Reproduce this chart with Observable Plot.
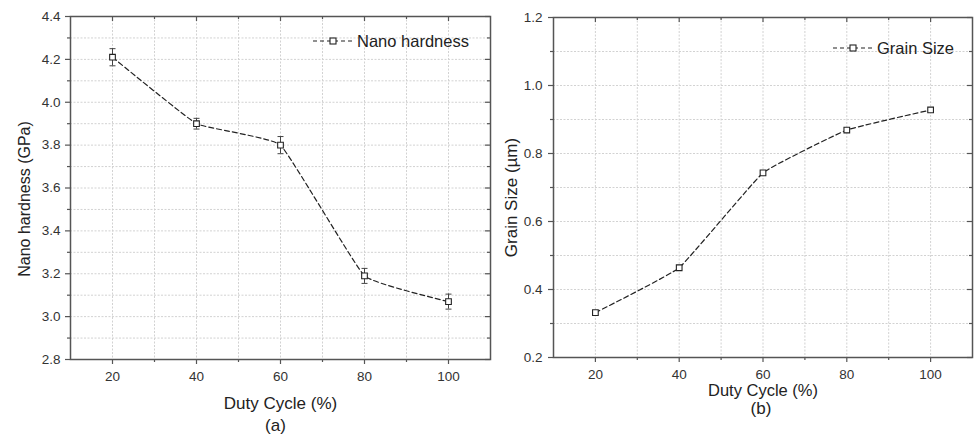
<!DOCTYPE html>
<html><head><meta charset="utf-8">
<script src="https://cdn.jsdelivr.net/npm/d3@7"></script>
<script src="https://cdn.jsdelivr.net/npm/@observablehq/plot@0.6"></script>
<style>
body{margin:0;background:#fff;font-family:"Liberation Sans",Arial,sans-serif;}
#wrap{position:relative;width:978px;height:434px;overflow:hidden;background:#fff;}
#wrap svg.plot{position:absolute;top:0;}
.legend{position:absolute;display:flex;align-items:center;height:20px;font-size:16.5px;color:#222;white-space:nowrap;}
.legend svg{margin-right:4px;}
</style></head><body><div id="wrap"></div>
<script>
// ---- data ----
const dutyCycle = [20, 40, 60, 80, 100];
const hardness = [4.21, 3.90, 3.80, 3.19, 3.07];
const hardnessErr = [0.04, 0.025, 0.04, 0.035, 0.035];
const grainSize = [0.332, 0.464, 0.743, 0.869, 0.928];
const xMajorTicks = [20, 40, 60, 80, 100];
const xMinorTicks = [30, 50, 70, 90];
const xGridTicks = [20, 30, 40, 50, 60, 70, 80, 90, 100];
const hardMajorTicks = [2.8, 3.0, 3.2, 3.4, 3.6, 3.8, 4.0, 4.2, 4.4];
const hardMinorTicks = [2.9, 3.1, 3.3, 3.5, 3.7, 3.9, 4.1, 4.3];
const grainMajorTicks = [0.2, 0.4, 0.6, 0.8, 1.0, 1.2];
const grainMinorTicks = [0.3, 0.5, 0.7, 0.9, 1.1];
const labels = {
  x: "Duty Cycle (%)",
  yA: "Nano hardness (GPa)",
  yB: "Grain Size (\u00b5m)",
  legA: "Nano hardness",
  legB: "Grain Size",
  a: "(a)",
  b: "(b)"
};

const hardData = dutyCycle.map((x, i) => ({x, y: hardness[i], err: hardnessErr[i]}));
const grainData = dutyCycle.map((x, i) => ({x, y: grainSize[i]}));

const ink = "#222";
const axisColor = "#555";
const gridStyle = {stroke: "#d2d2d2", strokeOpacity: 1, strokeDasharray: "2,1.5", strokeWidth: 1};
const capSymbol = {draw(ctx) { ctx.moveTo(-3, 0); ctx.lineTo(3, 0); }};

function tickMarks(xs, ys, fw, fh, len) {
  const s = {stroke: axisColor, strokeWidth: 1.2};
  return [
    Plot.ruleX(xs, {x: d => d, ...s, insetTop: fh, insetBottom: -len}),      // bottom, outward
    Plot.ruleX(xs, {x: d => d, ...s, insetBottom: fh - len}),               // top, inward
    Plot.ruleY(ys, {y: d => d, ...s, insetRight: fw, insetLeft: -len}),      // left, outward
    Plot.ruleY(ys, {y: d => d, ...s, insetLeft: fw - len})                  // right, inward
  ];
}

function panel({width, marginLeft, marginRight, marginTop, marginBottom, yDomain, yMajor, yMinor, data, errors, yLabel, tag, yPad, titleDy, titleSize, tagDy, tagDx, yTitleDx, yTitleDy, yTitleSize}) {
  const fw = width - marginLeft - marginRight;
  const fh = 434 - marginTop - marginBottom;
  const marks = [
    Plot.gridX(xGridTicks, gridStyle),
    Plot.gridY([...yMajor, ...yMinor], gridStyle),
    ...tickMarks(xMajorTicks, yMajor, fw, fh, 5),
    ...tickMarks(xMinorTicks, yMinor, fw, fh, 3),
    // tick labels
    Plot.axisX(xMajorTicks, {anchor: "bottom", tickSize: 0, tickPadding: 12, fontSize: 13.5, fill: "#333", label: null}),
    Plot.axisY(yMajor, {anchor: "left", tickSize: 0, tickPadding: yPad, fontSize: 13.5, fill: "#333", tickFormat: d3.format(".1f"), label: null}),
    Plot.frame({stroke: axisColor, strokeWidth: 1.5}),
    // line
    Plot.line(data, {x: "x", y: "y", stroke: ink, strokeWidth: 1.2, strokeDasharray: "5,3", curve: "cardinal", tension: 0.7})
  ];
  if (errors) {
    marks.push(
      Plot.ruleX(data, {x: "x", y1: d => d.y - d.err, y2: d => d.y + d.err, stroke: "#444", strokeWidth: 1}),
      Plot.dot(data, {x: "x", y: d => d.y + d.err, symbol: capSymbol, fill: "none", stroke: "#444", strokeWidth: 1}),
      Plot.dot(data, {x: "x", y: d => d.y - d.err, symbol: capSymbol, fill: "none", stroke: "#444", strokeWidth: 1})
    );
  }
  marks.push(
    Plot.dot(data, {x: "x", y: "y", symbol: "square", r: 3.2, fill: "white", stroke: ink, strokeWidth: 1.1}),
    Plot.text([labels.x], {text: d => d, frameAnchor: "bottom", textAnchor: "middle", dy: titleDy, fontSize: titleSize, fill: ink, lineAnchor: "middle"}),
    Plot.text([tag], {text: d => d, frameAnchor: "bottom", textAnchor: "middle", dy: tagDy, dx: tagDx, fontSize: 17, fill: ink, lineAnchor: "middle"}),
    Plot.text([yLabel], {text: d => d, frameAnchor: "left", textAnchor: "middle", rotate: -90, dx: yTitleDx, dy: yTitleDy, fontSize: yTitleSize, fill: ink, lineAnchor: "middle"})
  );
  return Plot.plot({
    width, height: 434,
    marginLeft, marginRight, marginTop, marginBottom,
    style: {fontFamily: '"Liberation Sans", Arial, sans-serif', background: "transparent", overflow: "visible"},
    x: {domain: [10, 110]},
    y: {domain: yDomain},
    marks
  });
}

const wrap = document.getElementById("wrap");

const left = panel({
  width: 491, marginLeft: 70, marginRight: 1, marginTop: 16, marginBottom: 75,
  yDomain: [2.8, 4.4], yMajor: hardMajorTicks, yMinor: hardMinorTicks,
  data: hardData, errors: true, yLabel: labels.yA, tag: labels.a, yPad: 10,
  titleDy: 44, titleSize: 17, tagDy: 66, tagDx: -5, yTitleDx: -46, yTitleDy: 11, yTitleSize: 16
});
left.classList.add("plot");
left.style.left = "0px";
wrap.appendChild(left);

const right = panel({
  width: 488, marginLeft: 63, marginRight: 6, marginTop: 17, marginBottom: 77,
  yDomain: [0.2, 1.2], yMajor: grainMajorTicks, yMinor: grainMinorTicks,
  data: grainData, errors: false, yLabel: labels.yB, tag: labels.b, yPad: 11,
  titleDy: 33, titleSize: 16.5, tagDy: 51, tagDx: -2, yTitleDx: -42, yTitleDy: 10, yTitleSize: 17
});
right.classList.add("plot");
right.style.left = "490px";
wrap.appendChild(right);

// legends
function legend(text, left, top) {
  const div = document.createElement("div");
  div.className = "legend";
  div.style.left = left + "px";
  div.style.top = top + "px";
  div.innerHTML = `<svg width="40" height="10"><line x1="0" y1="5" x2="40" y2="5" stroke="${ink}" stroke-width="1.2" stroke-dasharray="4,3"/><rect x="17" y="2" width="6" height="6" fill="white" stroke="${ink}" stroke-width="1.1"/></svg><span>${text}</span>`;
  wrap.appendChild(div);
}
legend(labels.legA, 313, 31);
legend(labels.legB, 833, 38);
</script>
</body></html>
